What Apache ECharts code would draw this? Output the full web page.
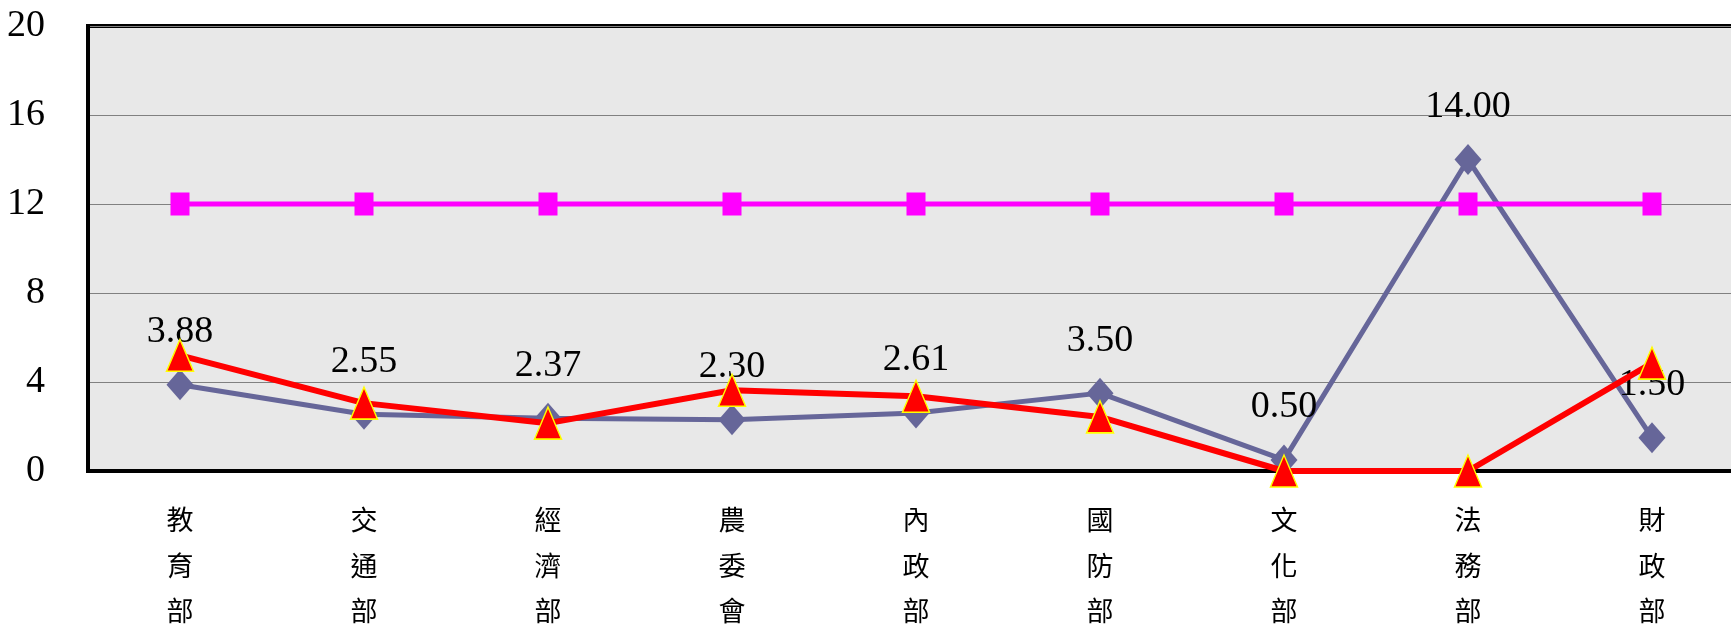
<!DOCTYPE html>
<html>
<head>
<meta charset="utf-8">
<script src="https://cdn.jsdelivr.net/npm/echarts@6/dist/echarts.min.js"></script>
<style>
  html, body { margin: 0; padding: 0; background: #fff; }
  #main { width: 1731px; height: 624px; }
</style>
</head>
<body>
<div id="main"></div>
<script>
// 各部會
var categories = ['教育部', '交通部', '經濟部', '農委會', '內政部', '國防部', '文化部', '法務部', '財政部'];
// 藍線 (有數值標籤)
var blueValues = [3.88, 2.55, 2.37, 2.30, 2.61, 3.50, 0.50, 14.00, 1.50];
// 紅線
var redValues = [5.2, 3.05, 2.15, 3.63, 3.36, 2.43, 0, 0, 4.85];
// 粉紅線
var pinkValues = [12, 12, 12, 12, 12, 12, 12, 12, 12];
var yTicks = [0, 4, 8, 12, 16, 20];

var numFont = '"Liberation Serif", "DejaVu Serif", serif';
var cjkFont = '"Noto Sans CJK TC", "Noto Sans CJK SC", sans-serif';

var chart = echarts.init(document.getElementById('main'));

var option = {
  backgroundColor: '#ffffff',
  animation: false,
  grid: {
    left: 88,
    top: 26,
    bottom: 153,
    right: -13,
    outerBoundsMode: 'none',
    containLabel: false,
    show: true,
    backgroundColor: '#e8e8e8',
    borderColor: '#000000',
    borderWidth: 4
  },
  xAxis: {
    type: 'category',
    data: categories,
    boundaryGap: true,
    axisLine: { show: true, lineStyle: { color: '#000', width: 4 } },
    axisTick: { show: false },
    axisLabel: {
      interval: 0,
      margin: 26,
      fontFamily: cjkFont,
      fontSize: 27,
      lineHeight: 45.5,
      color: '#000',
      formatter: function (v) {
        return v.split('').join('\n');
      }
    }
  },
  yAxis: {
    type: 'value',
    min: yTicks[0],
    max: yTicks[yTicks.length - 1],
    interval: 4,
    axisLine: { show: true, lineStyle: { color: '#000', width: 4 } },
    axisTick: { show: false },
    axisLabel: {
      margin: 43,
      fontFamily: numFont,
      fontSize: 38,
      color: '#000'
    },
    splitLine: { show: true, lineStyle: { color: '#808080', width: 1 } }
  },
  series: [
    {
      name: 'blue',
      type: 'line',
      data: blueValues,
      symbol: 'diamond',
      symbolSize: [27, 31],
      clip: false,
      lineStyle: { color: '#666699', width: 5 },
      itemStyle: { color: '#666699' },
      label: {
        show: true,
        position: 'top',
        distance: 18,
        fontFamily: numFont,
        fontSize: 38,
        color: '#000',
        formatter: function (p) {
          return p.value.toFixed(2);
        }
      },
      z: 2
    },
    {
      name: 'pink',
      type: 'line',
      data: pinkValues,
      symbol: 'rect',
      symbolSize: [19, 23],
      clip: false,
      lineStyle: { color: '#ff00ff', width: 5 },
      itemStyle: { color: '#ff00ff' },
      z: 3
    },
    {
      name: 'red',
      type: 'line',
      data: redValues,
      symbol: 'triangle',
      symbolSize: [27, 32],
      clip: false,
      lineStyle: { color: '#ff0000', width: 6 },
      itemStyle: { color: '#ff0000', borderColor: '#ffff00', borderWidth: 1.5 },
      z: 4
    }
  ]
};

chart.setOption(option);
</script>
</body>
</html>
